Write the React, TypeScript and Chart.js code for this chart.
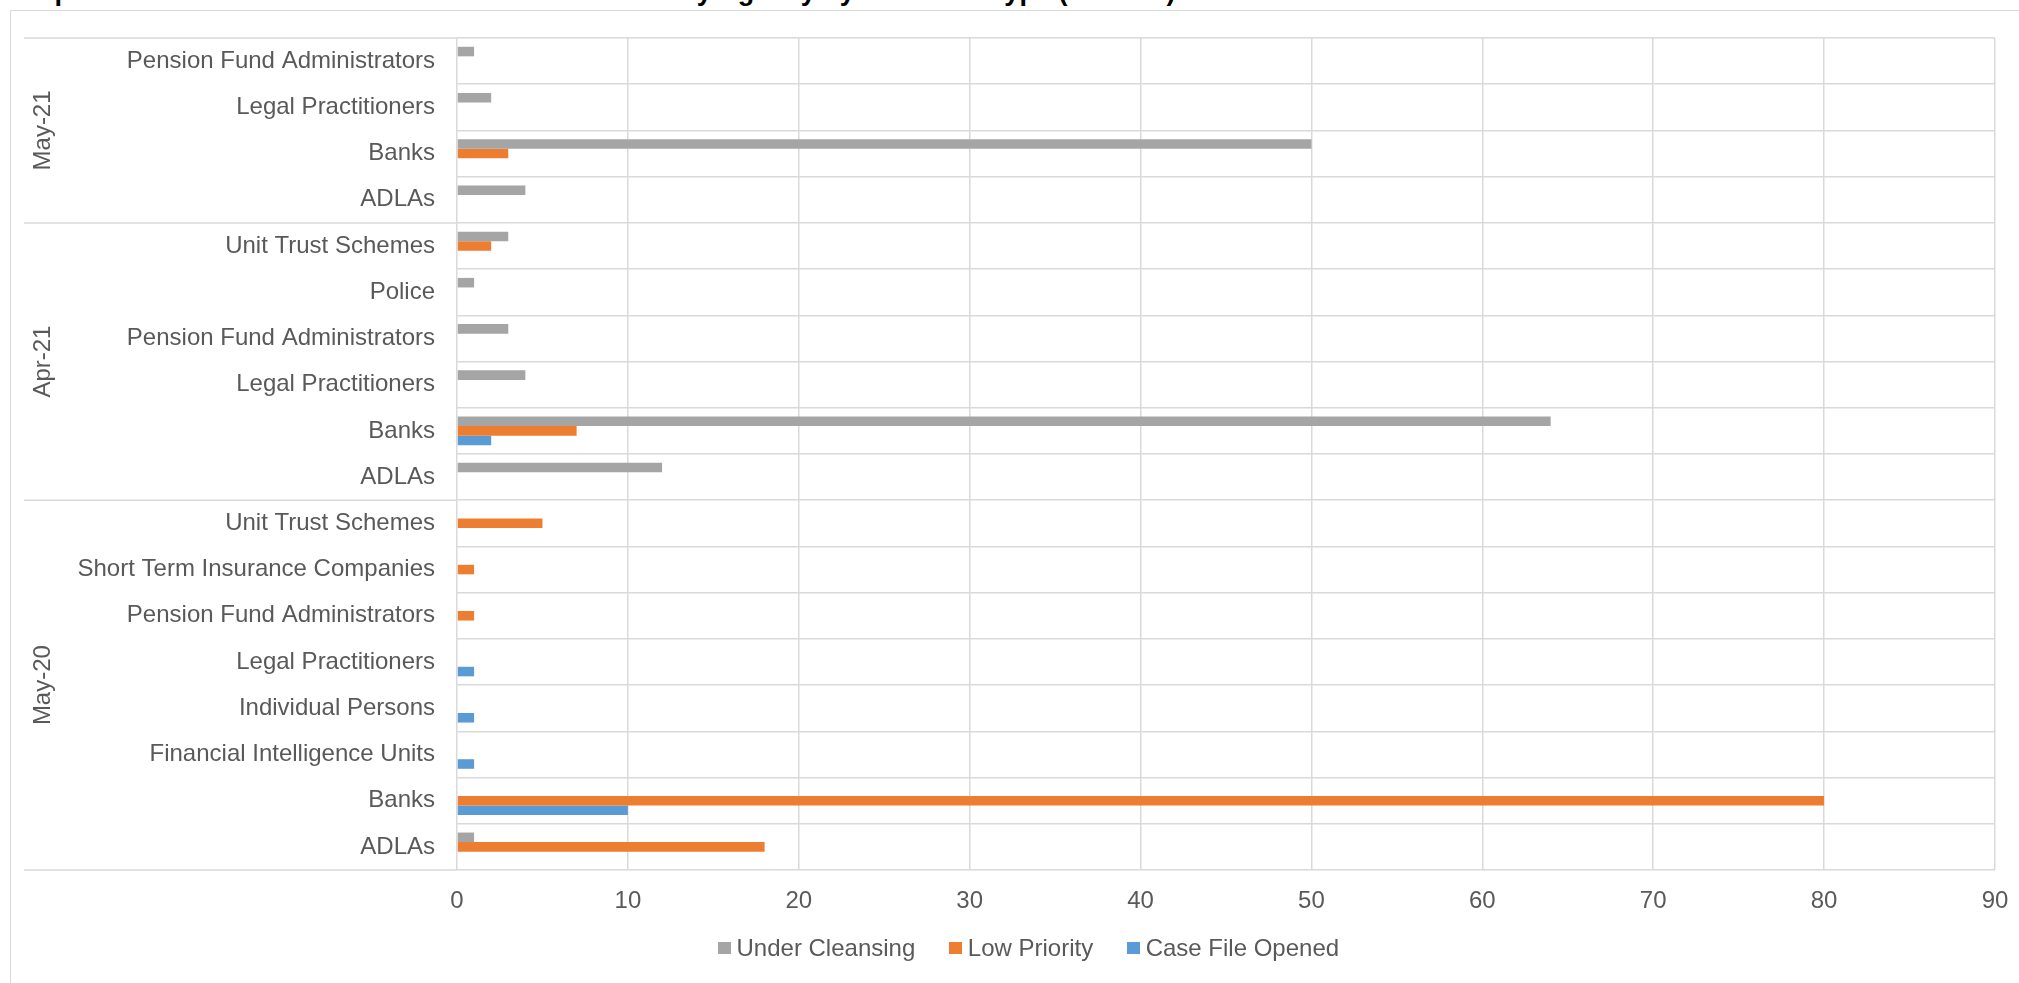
import React, { useEffect, useRef } from 'react';
import { Chart, registerables } from 'chart.js';

Chart.register(...registerables);

const titleText = 'Graph 10: Case Classification of Referrals Received by Agency by Business Type (Sectors)';

const groups = ['May-21', 'Apr-21', 'May-20'];
const groupSizes = [4, 6, 8];

const categories = [
  'Pension Fund Administrators',
  'Legal Practitioners',
  'Banks',
  'ADLAs',
  'Unit Trust Schemes',
  'Police',
  'Pension Fund Administrators',
  'Legal Practitioners',
  'Banks',
  'ADLAs',
  'Unit Trust Schemes',
  'Short Term Insurance Companies',
  'Pension Fund Administrators',
  'Legal Practitioners',
  'Individual Persons',
  'Financial Intelligence Units',
  'Banks',
  'ADLAs',
];

const seriesNames = ['Under Cleansing', 'Low Priority', 'Case File Opened'];
const seriesColors = ['#a5a5a5', '#ed7d31', '#5b9bd5'];

const underCleansing = [1, 2, 50, 4, 3, 1, 3, 4, 64, 12, null, null, null, null, null, null, null, 1];
const lowPriority = [null, null, 3, null, 2, null, null, null, 7, null, 5, 1, 1, null, null, null, 80, 18];
const caseFileOpened = [null, null, null, null, null, null, null, null, 2, null, null, null, null, 1, 1, 1, 10, null];

const xMin = 0;
const xMax = 90;
const xStep = 10;

const FONT = "'Liberation Sans', Arial, Helvetica, sans-serif";
const TEXT = '#595959';
const GRID = '#d9d9d9';

const groupPlugin = {
  id: 'groupLabels',
  afterDraw(chart: any) {
    const ctx = chart.ctx;
    const y = chart.scales.y;
    const area = chart.chartArea;
    const rowH = (y.bottom - y.top) / categories.length;
    ctx.save();
    ctx.strokeStyle = GRID;
    ctx.lineWidth = 1.5;
    let start = 0;
    const lineX0 = 24;
    const drawLine = (py: number) => {
      ctx.beginPath();
      ctx.moveTo(lineX0, py);
      ctx.lineTo(area.left, py);
      ctx.stroke();
    };
    drawLine(y.top);
    groups.forEach((g, i) => {
      const top = y.top + start * rowH;
      const bottom = top + groupSizes[i] * rowH;
      drawLine(bottom);
      ctx.save();
      ctx.translate(43, (top + bottom) / 2);
      ctx.rotate(-Math.PI / 2);
      ctx.fillStyle = TEXT;
      ctx.font = `24px ${FONT}`;
      ctx.textAlign = 'center';
      ctx.textBaseline = 'middle';
      ctx.fillText(g, 0, 0);
      ctx.restore();
      start += groupSizes[i];
    });
    ctx.restore();
  },
};

function ChartView() {
  const ref = useRef<HTMLCanvasElement | null>(null);
  useEffect(() => {
    if (!ref.current) return;
    const data = [underCleansing, lowPriority, caseFileOpened];
    const chart = new Chart(ref.current, {
      type: 'bar',
      data: {
        labels: categories,
        datasets: seriesNames.map((name, i) => ({
          label: name,
          data: data[i],
          backgroundColor: seriesColors[i],
          borderWidth: 0,
          barPercentage: 1,
          categoryPercentage: 0.62,
        })),
      },
      options: {
        indexAxis: 'y',
        animation: false,
        responsive: false,
        maintainAspectRatio: false,
        devicePixelRatio: 1,
        layout: { padding: { top: 38, right: 24, bottom: 53, left: 0 } },
        plugins: {
          legend: { display: false },
          tooltip: { enabled: false },
          title: { display: false },
        },
        scales: {
          x: {
            type: 'linear',
            min: xMin,
            max: xMax,
            ticks: {
              stepSize: xStep,
              font: { size: 24, family: FONT },
              color: TEXT,
              padding: 17,
            },
            grid: { color: GRID, lineWidth: 1.5, drawTicks: false },
            border: { display: false },
            afterFit: (s: any) => {
              s.height = 60;
              s.paddingLeft = 0;
              s.paddingRight = 0;
            },
          },
          y: {
            type: 'category',
            ticks: {
              font: { size: 24, family: FONT },
              color: TEXT,
              padding: 22,
              autoSkip: false,
            },
            grid: { color: GRID, lineWidth: 1.5, drawTicks: false, offset: true },
            border: { display: false },
            afterFit: (s: any) => {
              s.width = 457;
              s.paddingTop = 0;
              s.paddingBottom = 0;
            },
          },
        },
      } as any,
      plugins: [groupPlugin],
    });
    return () => chart.destroy();
  }, []);
  return <canvas ref={ref} width={2019} height={983} style={{ position: 'absolute', left: 0, top: 0, width: 2019, height: 983 }} />;
}

export default function App() {
  return (
    <div
      style={{
        position: 'fixed',
        left: 0,
        top: 0,
        width: 2019,
        height: 983,
        overflow: 'hidden',
        background: '#ffffff',
        fontFamily: FONT,
      }}
    >
      <div
        style={{
          position: 'absolute',
          left: 10,
          top: 10,
          width: 2200,
          height: 1200,
          border: `1.5px solid ${GRID}`,
          boxSizing: 'border-box',
        }}
      />
      <div
        style={{
          position: 'absolute',
          left: 8,
          top: -22,
          fontSize: 27,
          lineHeight: '27px',
          fontWeight: 'bold',
          color: '#000000',
          whiteSpace: 'nowrap',
        }}
      >
        {titleText}
      </div>
      <ChartView />
      <div
        style={{
          position: 'absolute',
          left: 718,
          top: 936,
          display: 'flex',
          alignItems: 'center',
          fontSize: 24,
          lineHeight: '24px',
          color: TEXT,
          whiteSpace: 'nowrap',
        }}
      >
        {seriesNames.map((name, i) => (
          <div key={name} style={{ display: 'flex', alignItems: 'center', marginRight: i < seriesNames.length - 1 ? 34 : 0 }}>
            <span style={{ display: 'inline-block', width: 12.5, height: 12.5, background: seriesColors[i], marginRight: 6 }} />
            <span>{name}</span>
          </div>
        ))}
      </div>
    </div>
  );
}
